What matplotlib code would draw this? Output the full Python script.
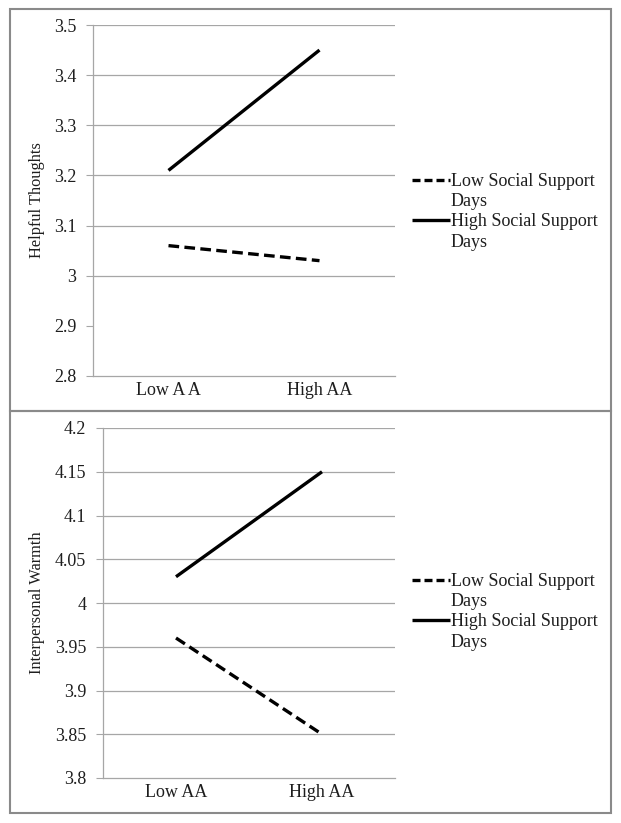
import matplotlib.pyplot as plt
from matplotlib.patches import Rectangle
from matplotlib.lines import Line2D

# data
top_categories = ['Low A A', 'High AA']
top_low_support = [3.06, 3.03]
top_high_support = [3.21, 3.45]
top_ticks = [2.8, 2.9, 3.0, 3.1, 3.2, 3.3, 3.4, 3.5]
top_tick_labels = ['2.8', '2.9', '3', '3.1', '3.2', '3.3', '3.4', '3.5']

bottom_categories = ['Low AA', 'High AA']
bottom_low_support = [3.96, 3.85]
bottom_high_support = [4.03, 4.15]
bottom_ticks = [3.8, 3.85, 3.9, 3.95, 4.0, 4.05, 4.1, 4.15, 4.2]
bottom_tick_labels = ['3.8', '3.85', '3.9', '3.95', '4', '4.05', '4.1', '4.15', '4.2']

legend_labels = ['Low Social Support\nDays', 'High Social Support\nDays']

plt.rcParams['font.family'] = ['Liberation Serif', 'DejaVu Serif']

W, H = 621, 823
fig = plt.figure(figsize=(W / 100, H / 100), dpi=100)


def px(x0, y0, x1, y1):
    # pixel box (top-left origin) -> figure fraction
    return [x0 / W, 1 - y1 / H, (x1 - x0) / W, (y1 - y0) / H]


# outer panel frames
for (y0, y1) in [(9, 411), (411, 813)]:
    fig.patches.append(Rectangle((9.5 / W, 1 - y1 / H), (611 - 9.5) / W, (y1 - y0) / H,
                                 transform=fig.transFigure, fill=False,
                                 edgecolor='#8a8a8a', linewidth=1.5))

grid_col = '#a6a6a6'
text_col = '#1e1e1e'


def panel(rect, cats, low, high, ticks, labels, ylim, ylabel, skip_grid, ylabel_y, leg_y):
    ax = fig.add_axes(px(*rect))
    x = [0, 1]
    ax.plot(x, low, color='black', linewidth=2.4, linestyle=(0, (3.2, 1.6)),
            solid_capstyle='butt', dash_capstyle='butt')
    ax.plot(x, high, color='black', linewidth=2.4, solid_capstyle='butt')
    ax.set_xlim(-0.5, 1.5)
    ax.set_ylim(*ylim)
    ax.set_xticks(x)
    ax.set_xticklabels(cats, fontsize=13, color=text_col)
    ax.set_yticks(ticks)
    ax.set_yticklabels(labels, fontsize=13, color=text_col)
    ax.tick_params(axis='x', length=0, pad=4)
    ax.tick_params(axis='y', length=5, color=grid_col, pad=7)
    for t in ticks[1:]:
        if t in skip_grid:
            continue
        ax.axhline(t, color=grid_col, linewidth=0.9, zorder=0)
    for s in ['top', 'right']:
        ax.spines[s].set_visible(False)
    for s in ['left', 'bottom']:
        ax.spines[s].set_color(grid_col)
        ax.spines[s].set_linewidth(0.9)
    ax.set_ylabel(ylabel, fontsize=11.8, color=text_col)
    ax.yaxis.set_label_coords(45 / W, 1 - ylabel_y / H, transform=fig.transFigure)

    # legend: handle sits beside the first line of each two-line label
    blank = Line2D([], [], color='none')
    handles, texts = [], []
    for lab, ls in zip(legend_labels, [(0, (2.4, 1.2)), '-']):
        first, second = lab.split('\n')
        handles += [Line2D([], [], color='black', linewidth=2.4, linestyle=ls,
                           dash_capstyle='butt', solid_capstyle='butt'), blank]
        texts += [first, second]
    ax.legend(handles, texts, loc='upper left',
              bbox_to_anchor=(412 / W, 1 - leg_y / H), bbox_transform=fig.transFigure,
              frameon=False, fontsize=13, handlelength=2.1, handletextpad=0.05,
              labelspacing=0.18, borderpad=0, borderaxespad=0, labelcolor=text_col)
    return ax


panel((93, 25, 395, 376), top_categories, top_low_support, top_high_support,
      top_ticks, top_tick_labels, (2.8, 3.5), 'Helpful Thoughts', [2.9], 200, 173)
panel((103, 428, 395, 778), bottom_categories, bottom_low_support, bottom_high_support,
      bottom_ticks, bottom_tick_labels, (3.8, 4.2), 'Interpersonal Warmth', [], 603, 573)

fig.savefig('out.png', dpi=100)
